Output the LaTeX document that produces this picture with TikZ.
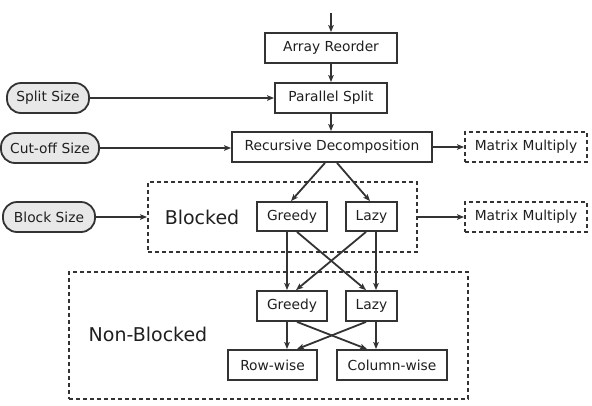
\documentclass[tikz,border=0pt]{standalone}
\usepackage{fontspec}
\setmainfont{DejaVu Sans}
\usetikzlibrary{arrows.meta}
\begin{document}
\begin{tikzpicture}[x=1pt,y=-1pt,
  box/.style={draw=black!80,line width=1.8pt,inner sep=0pt,text=black!88,font=\fontsize{13.8}{16}\selectfont},
  dbox/.style={box,dash pattern=on 4pt off 3pt},
  param/.style={box,fill=black!9,rounded corners=14pt},
  region/.style={draw=black!80,line width=1.8pt,dash pattern=on 4pt off 3pt,inner sep=0pt},
  big/.style={font=\fontsize{19}{22}\selectfont,inner sep=0pt,text=black!88},
  arr/.style={draw=black!80,line width=1.8pt,-{Stealth[length=7pt,width=5.5pt,inset=1.5pt]}}]
\useasboundingbox (0,0) rectangle (592,405);
% regions
\node[region,minimum width=269pt,minimum height=70pt] (blk) at (282.5,217) {};
\node[big] (blklabel) at (202,217) {Blocked};
\node[region,minimum width=399pt,minimum height=127pt] (nblk) at (268.5,335.5) {};
\node[big] (nblklabel) at (148,334) {Non-Blocked};
% main chain
\coordinate (start) at (331,13);
\node[box,minimum width=132pt,minimum height=30pt] (ar) at (331,48) {Array Reorder};
\node[box,minimum width=112pt,minimum height=30pt] (ps) at (331,98) {Parallel Split};
\node[box,minimum width=200pt,minimum height=30pt] (rd) at (332,147) {Recursive Decomposition};
\node[dbox,minimum width=122pt,minimum height=30pt] (mm1) at (526,147) {Matrix Multiply};
\node[dbox,minimum width=122pt,minimum height=30pt] (mm2) at (526,217) {Matrix Multiply};
% parameters
\node[param,minimum width=82pt,minimum height=30pt] (split) at (48,98) {Split Size};
\node[param,minimum width=98pt,minimum height=30pt] (cut) at (50,148) {Cut-off Size};
\node[param,minimum width=92pt,minimum height=30pt] (block) at (49,217) {Block Size};
% blocked
\node[box,minimum width=70pt,minimum height=29pt] (gb) at (292,216.5) {Greedy};
\node[box,minimum width=51pt,minimum height=29pt] (lb) at (371.5,216.5) {Lazy};
% non-blocked
\node[box,minimum width=70pt,minimum height=30pt] (gn) at (292,306) {Greedy};
\node[box,minimum width=51pt,minimum height=30pt] (ln) at (371.5,306) {Lazy};
\node[box,minimum width=89pt,minimum height=30pt] (rw) at (272.5,365) {Row-wise};
\node[box,minimum width=110pt,minimum height=30pt] (cw) at (392,365) {Column-wise};
% connectors
\draw[arr] (start) -- (ar.north);
\draw[arr] (ar) -- (ps);
\draw[arr] (ps) -- (ps.south |- rd.north);
\draw[arr] (split) -- (ps.west |- split);
\draw[arr] (cut) -- (rd.west |- cut);
\draw[arr] (block) -- (blk.west |- block);
\draw[arr] (rd.east) -- (mm1.west |- rd.east);
\draw[arr] (blk.east) -- (mm2.west |- blk.east);
\draw[arr] ([xshift=-7pt]rd.south) -- ([xshift=-1pt]gb.north);
\draw[arr] ([xshift=5pt]rd.south) -- ([xshift=-1.5pt]lb.north);
\draw[arr] ([xshift=-5pt]gb.south) -- ([xshift=-5pt]gn.north);
\draw[arr] ([xshift=5pt]gb.south) -- ([xshift=-5.5pt]ln.north);
\draw[arr] ([xshift=4.5pt]lb.south) -- ([xshift=4.5pt]ln.north);
\draw[arr] ([xshift=-5.5pt]lb.south) -- ([xshift=4pt]gn.north);
\draw[arr] ([xshift=-5pt]gn.south) -- ([xshift=14.5pt]rw.north);
\draw[arr] ([xshift=5pt]gn.south) -- ([xshift=-25pt]cw.north);
\draw[arr] ([xshift=4.5pt]ln.south) -- ([xshift=-16pt]cw.north);
\draw[arr] ([xshift=-5.5pt]ln.south) -- ([xshift=24.5pt]rw.north);
\end{tikzpicture}
\end{document}
